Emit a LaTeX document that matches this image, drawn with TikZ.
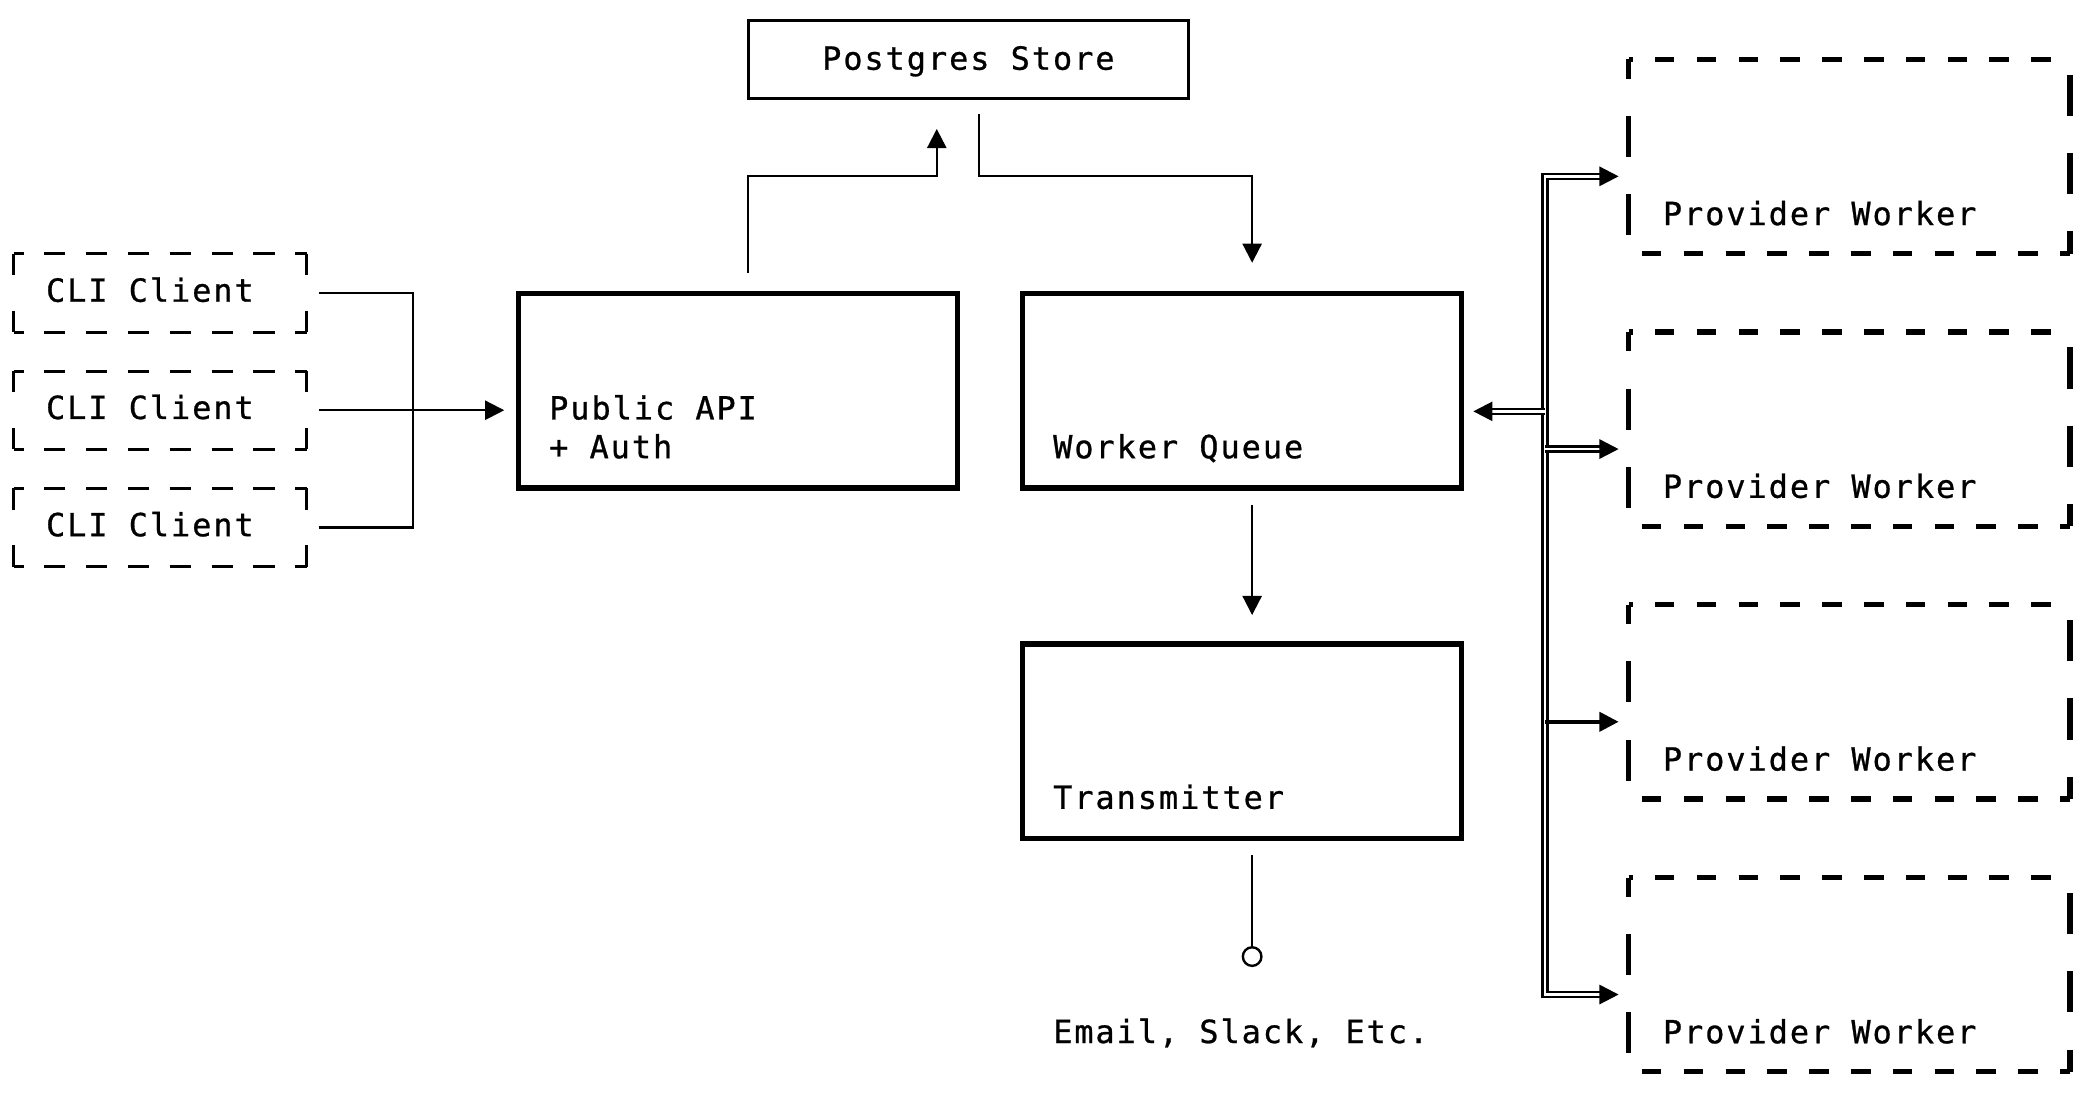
\documentclass[tikz,border=0pt]{standalone}
\usepackage{fontspec}
\setmonofont{DejaVu Sans Mono}[LetterSpace=6.2,FakeBold=0.8]
\usetikzlibrary{arrows.meta,calc}
\tikzset{%
  box/.style     = {shape=rectangle, draw, line width=2pt, outer sep=0pt,%
                    minimum width=165.5pt, minimum height=73.3pt},%
  store/.style   = {box, line width=1.2pt, minimum width=165.8pt, minimum height=29.4pt},%
  client/.style  = {shape=rectangle, outer sep=0pt,%
                    minimum width=110.35pt, minimum height=29.45pt},%
  worker/.style  = {shape=rectangle, outer sep=0pt,%
                    minimum width=166.2pt, minimum height=73.15pt},%
  sink/.style    = {circle, draw, line width=0.9pt, inner sep=0pt, outer sep=0pt, minimum size=7pt},%
  txt/.style     = {font=\ttfamily\fontsize{12pt}{14.6pt}\selectfont, align=left,%
                    inner sep=0pt, anchor=base west},%
  link/.style    = {line width=0.8pt},%
  arrow/.style   = {link, ->},%
  bus/.style     = {double, line width=0.9pt, double distance=0.9pt},%
  ctop/.style    = {line width=1.15pt, dash pattern=on 8pt off 7.75pt, dash phase=4.25pt},%
  cside/.style   = {line width=1.15pt, dash pattern=on 8pt off 13.45pt},%
  wtop/.style    = {line width=2pt, dash pattern=on 7.35pt off 8.4pt, dash phase=5.85pt},%
  wleft/.style   = {line width=2pt, dash pattern=on 15.5pt off 14pt, dash phase=8.25pt},%
  wright/.style  = {line width=2pt, dash pattern=on 15.5pt off 14pt, dash phase=23.75pt}%
}
\begin{document}
\begin{tikzpicture}
[x=0.5pt,y=-0.5pt,>={Triangle[length=7.2pt,width=7.2pt]}]
	\useasboundingbox (0,0) rectangle (1568,824.6);
	\node [store] (pg) at (729.3,44.7) {};
	\node [txt,anchor=base] at ($(pg.center)+(0,7.8)$) {Postgres Store};
	\node [box] (api) at (555.75,294.2) {};
	\node [box] (queue) at (935.3,294.2) {};
	\node [box] (trans) at (935.3,558.2) {};
	\node [txt] at ($(api.south west)+(23,-22.4)$) {Public API\\+ Auth};
	\node [txt] at ($(queue.south west)+(23,-22.4)$) {Worker Queue};
	\node [txt] at ($(trans.south west)+(23,-22.4)$) {Transmitter};
	\foreach \i in {1,2,3} {
		\node [client,anchor=north west] (cli\i) at (10.3,{191.2+88.3*(\i-1)}) {};
		\node [txt] at ($(cli\i.west)+(24,6.6)$) {CLI Client};
		\draw [ctop] (cli\i.north west) -- (cli\i.north east);
		\draw [ctop] (cli\i.south west) -- (cli\i.south east);
		\draw [cside] (cli\i.north west) -- (cli\i.south west);
		\draw [cside] (cli\i.north east) -- (cli\i.south east);
	}
	\foreach \i in {1,...,4} {
		\node [worker,anchor=north west] (pw\i) at (1226.5,{44.7+205.4*(\i-1)}) {};
		\node [txt] at ($(pw\i.south west)+(25.5,-21.5)$) {Provider Worker};
		\draw [wtop] (pw\i.north west) -- (pw\i.north east);
		\draw [wleft] (pw\i.north west) -- (pw\i.south west);
		\draw [wright] (pw\i.north east) -- (pw\i.south east);
		\draw [wtop,dash phase=0pt] ([xshift=5pt]pw\i.south west) -- (pw\i.south east);
	}
	% left side
	\coordinate (join) at ($(cli2.east)+(80,0)$);
	\draw [link,shorten <=4.5pt] (cli1.east) -| (join);
	\draw [link,shorten <=4.5pt] (cli3.east) -| (join);
	\draw [arrow,shorten <=4.5pt,shorten >=5.25pt] (cli2.east) -- (cli2.east -| api.west);
	% store
	\coordinate (lane) at (0,132.7);
	\coordinate (pg in) at ($(pg.south)+(-23.8,0)$);
	\coordinate (pg out) at ($(pg.south)+(8.2,0)$);
	\coordinate (col) at ($(queue.north)+(7.7,0)$);
	\draw [arrow,shorten <=7.5pt,shorten >=11.5pt] (api.north -| pg.west) |- (lane -| pg in) -- (pg in);
	\draw [arrow,shorten <=6pt,shorten >=11.5pt] (pg out) |- (lane -| col) -- (col);
	\draw [arrow,shorten <=6.3pt,shorten >=10.85pt] (col |- queue.south) -- (col |- trans.north);
	\node [sink] (out) at ($(col |- trans.south)+(0,88.9)$) {};
	\draw [link,shorten <=6.2pt] (col |- trans.south) -- (out);
	\node [txt] at ($(trans.south west)+(23,154)$) {Email, Slack, Etc.};
	% workers
	\coordinate (bus) at (1163.5,0);
	\foreach \i in {1,...,4}
		\coordinate (b\i) at ($(pw\i.north west -| bus)+(0,88.1)$);
	\coordinate (bq) at ($(queue.east -| bus)+(0,15.6)$);
	\draw [bus,<->,shorten <=3.75pt,shorten >=3.75pt] (b1 -| pw1.west) -- (b1) -- (b4) -- (b4 -| pw4.west);
	\draw [bus,->,shorten >=3.75pt] (b2) -- (b2 -| pw2.west);
	\draw [line width=1.3pt,->,shorten >=3.75pt] (b3) -- (b3 -| pw3.west);
	\draw [bus,->,shorten >=4.4pt] (bq) -- (bq -| queue.east);
\end{tikzpicture}
\end{document}
